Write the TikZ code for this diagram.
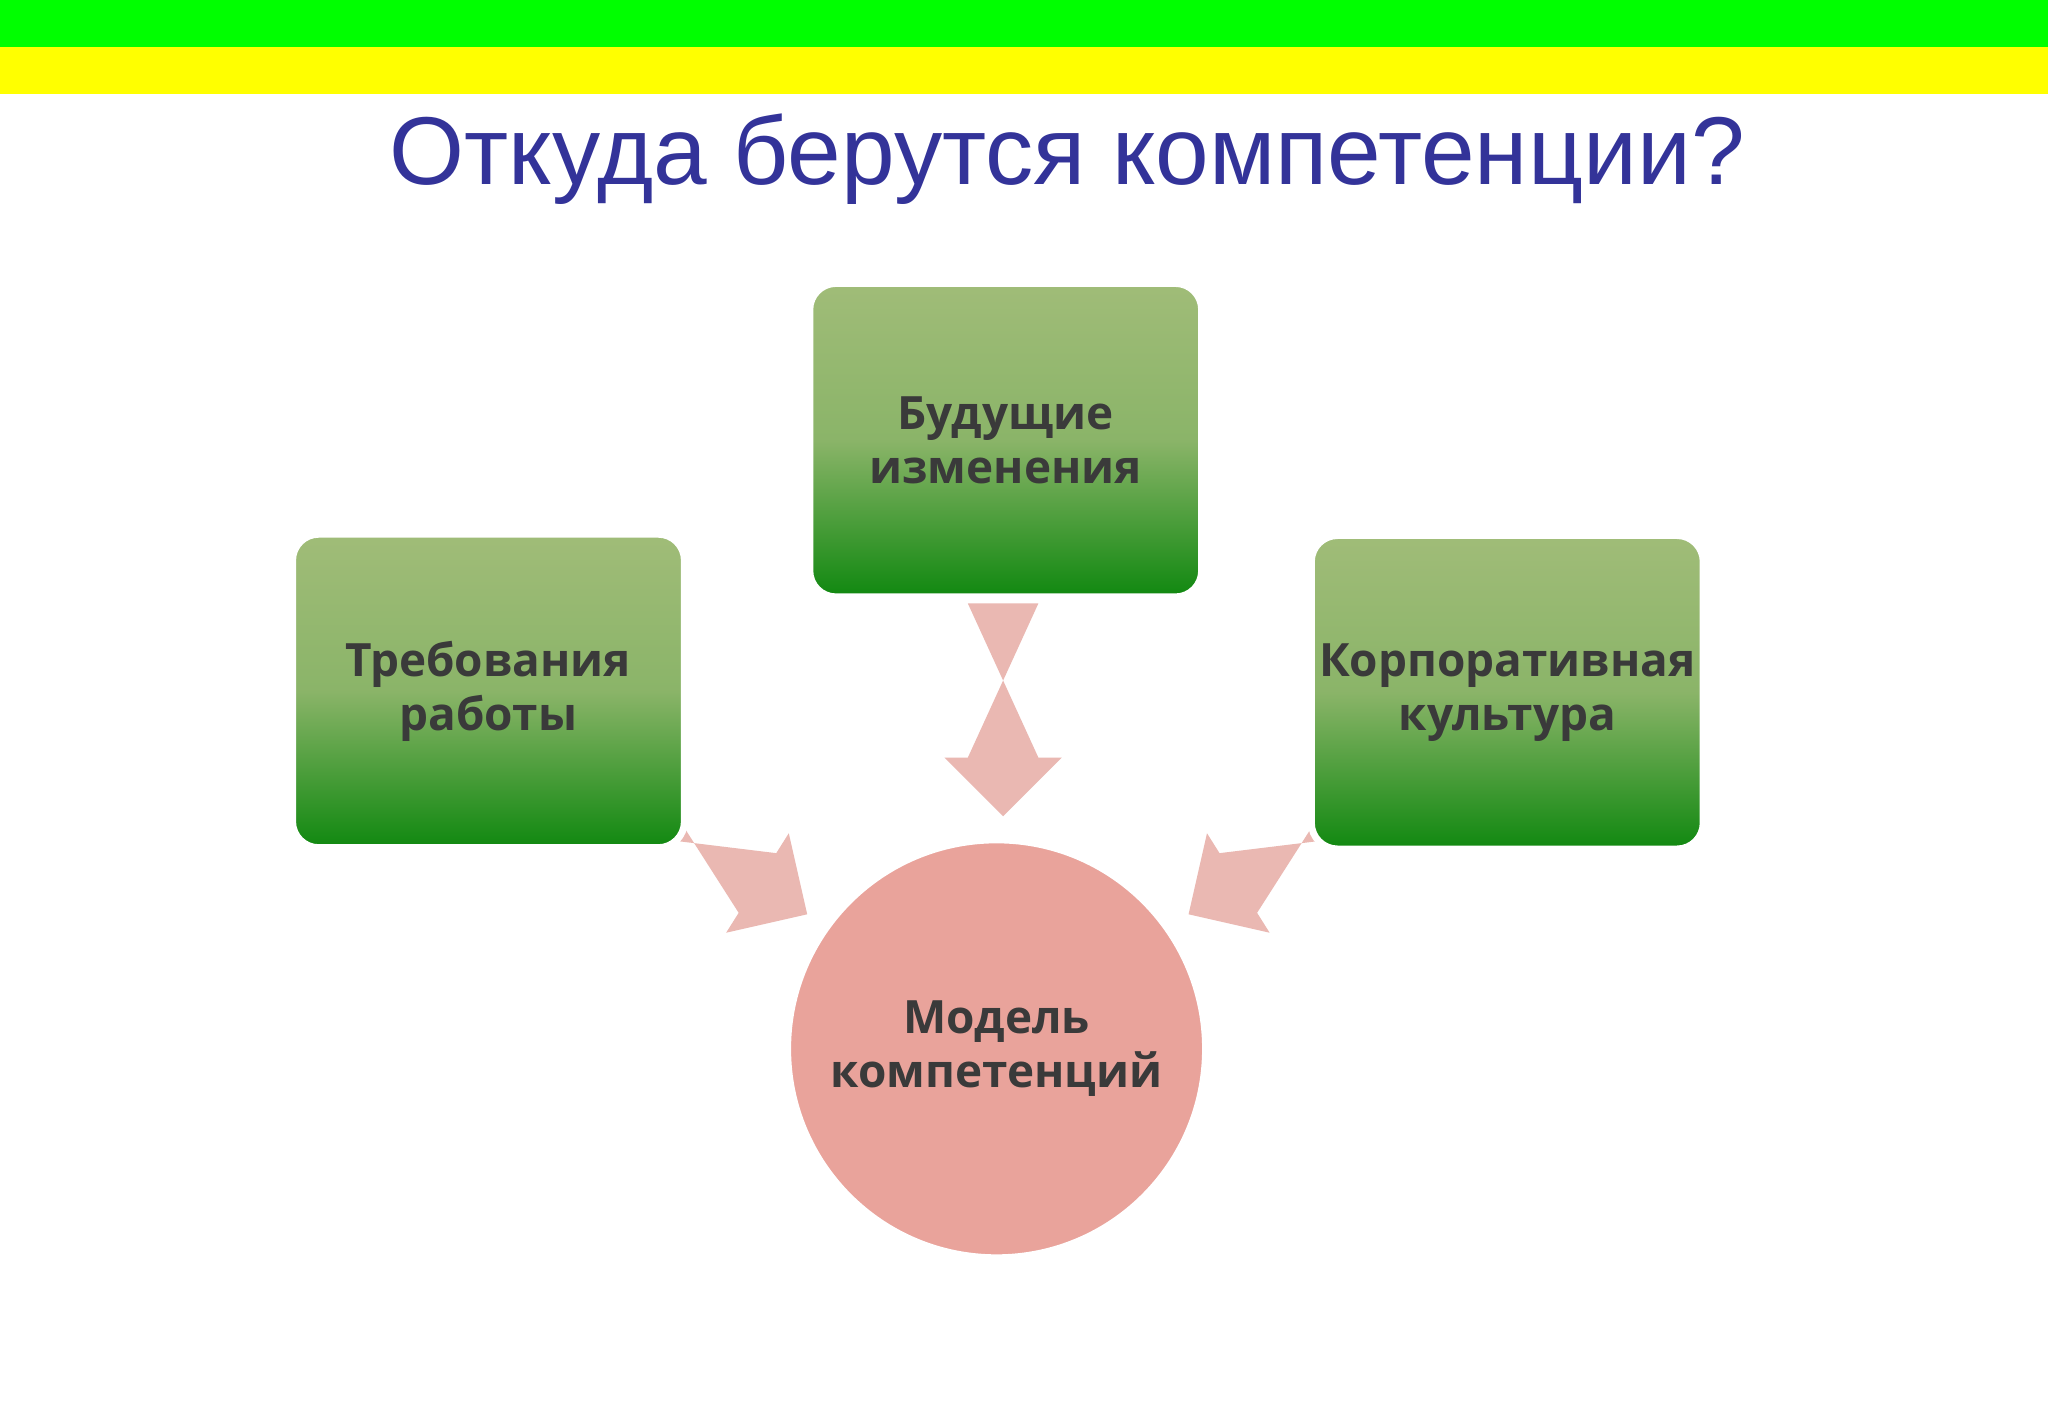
\documentclass[tikz,border=0pt]{standalone}
\usepackage{fontspec}
\setmainfont{Liberation Sans}
\newfontfamily\boxfont{Open Sans}
\usetikzlibrary{calc}
\definecolor{bandgreen}{HTML}{00FF00}
\definecolor{bandyellow}{HTML}{FFFF00}
\definecolor{titleblue}{HTML}{333399}
\definecolor{boxtop}{HTML}{A0BC78}
\definecolor{boxbot}{HTML}{108810}
\definecolor{circc}{HTML}{E9A39B}
\definecolor{arrowc}{HTML}{EAB8B2}
\definecolor{txt}{HTML}{3A3A3A}
\newcommand\blockarr[2]{%
  \coordinate (H) at ($(#2)!0.9cm!(#1)$);
  \fill[arrowc] ($(#1)!0.54cm!90:(#2)$) -- ($(H)!0.54cm!-90:(#2)$) -- ($(H)!0.9cm!-90:(#2)$) -- (#2)
     -- ($(H)!0.9cm!90:(#2)$) -- ($(H)!0.54cm!90:(#2)$) -- ($(#1)!0.54cm!-90:(#2)$) -- cycle;}
\tikzset{
  gbox/.style={draw=white, line width=3pt, rounded corners=0.4cm, minimum width=6cm, minimum height=4.8cm,
    top color=boxtop, bottom color=boxbot, middle color=boxtop!85!boxbot, shading angle=0,
    text=txt, font=\boxfont\bfseries\fontsize{20}{23.5}\selectfont, align=center},
}
\begin{document}
\begin{tikzpicture}[x=0.02cm,y=-0.02cm]
\useasboundingbox (0,0) rectangle (1568,1082);
\fill[white] (0,0) rectangle (1568,1082);
\fill[bandgreen] (0,0) rectangle (1568,36);
\fill[bandyellow] (0,36) rectangle (1568,72);
\node[text=titleblue, font=\fontsize{42}{50}\selectfont] (title) at (817,122) {Откуда берутся компетенции?};
% arrows
\coordinate (a1s) at (768,462); \coordinate (a1e) at (768,625);
\coordinate (a2s) at (483,615); \coordinate (a2e) at (618,700);
\coordinate (a3s) at (1045,615); \coordinate (a3e) at (910,700);
\blockarr{a1s}{a1e}
\blockarr{a2s}{a2e}
\blockarr{a3s}{a3e}
\node[gbox] (top) at (770,337) {Будущие\\изменения};
\node[gbox] (left) at (374,529) {Требования\\работы};
\node[gbox] (right) at (1154,530) {Корпоративная\\культура};
\node[circle, draw=white, line width=3pt, fill=circc, minimum size=6.4cm, text=txt,
  font=\boxfont\bfseries\fontsize{20}{23.5}\selectfont, align=center] (model) at (763,803) {Модель\\компетенций};
\end{tikzpicture}
\end{document}
